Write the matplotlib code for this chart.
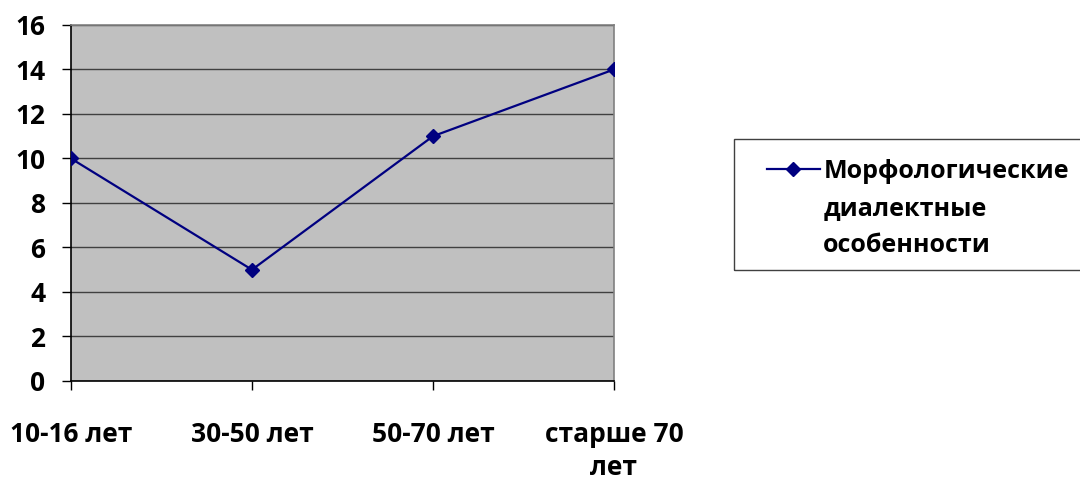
import matplotlib
matplotlib.use("Agg")
from matplotlib import pyplot as plt
from matplotlib.lines import Line2D
from matplotlib.patches import Rectangle

age_groups = ["10-16 лет", "30-50 лет", "50-70 лет", "старше 70\nлет"]
features = [10, 5, 11, 14]
legend_lines = ["Морфологические", "диалектные", "особенности"]

plt.rcParams['font.family'] = ['Open Sans', 'DejaVu Sans']
plt.rcParams['font.weight'] = 'bold'

fig = plt.figure(figsize=(10.8, 4.8), dpi=100)
ax = fig.add_axes([0.0657, 0.2063, 0.5028, 0.7417])
ax.set_facecolor('#C0C0C0')

x = list(range(len(age_groups)))
line, = ax.plot(x, features, color='#000080', lw=1.6, marker='D', ms=7, zorder=3)

ax.set_xlim(0, 3)
ax.set_ylim(0, 16)
ax.set_yticks(range(0, 17, 2))
ax.set_xticks(x)
ax.set_xticklabels(age_groups, fontsize=19, fontweight='bold', linespacing=1.3)
ax.tick_params(axis='y', labelsize=19, length=6.5, width=1, color='#000000', pad=12)
ax.tick_params(axis='x', length=6.5, width=1, color='#000000', pad=22)
for lbl in ax.get_yticklabels():
    lbl.set_fontweight('bold')

ax.grid(axis='y', color='#404040', lw=1)
ax.set_axisbelow(True)
ax.spines['left'].set_color('#000000')
ax.spines['bottom'].set_color('#000000')
ax.spines['top'].set_color('#808080')
ax.spines['right'].set_color('#808080')
for s in ax.spines.values():
    s.set_linewidth(1.2)

# legend frame drawn separately so the padding can differ by side
fig.patches.append(Rectangle((734 / 1080, 1 - 270 / 480), 360 / 1080, 131 / 480,
                             transform=fig.transFigure, fill=False,
                             edgecolor='#404040', lw=1))

blank = Line2D([], [], color='none')
leg = fig.legend([line, blank, blank], legend_lines,
                 loc='upper left', bbox_to_anchor=(767 / 1080, 1 - 159 / 480),
                 frameon=False,
                 prop={'size': 18, 'weight': 'bold'},
                 handlelength=2.1, handletextpad=0.15, labelspacing=0.47,
                 borderpad=0, borderaxespad=0)

plt.savefig('out.png', dpi=100)
